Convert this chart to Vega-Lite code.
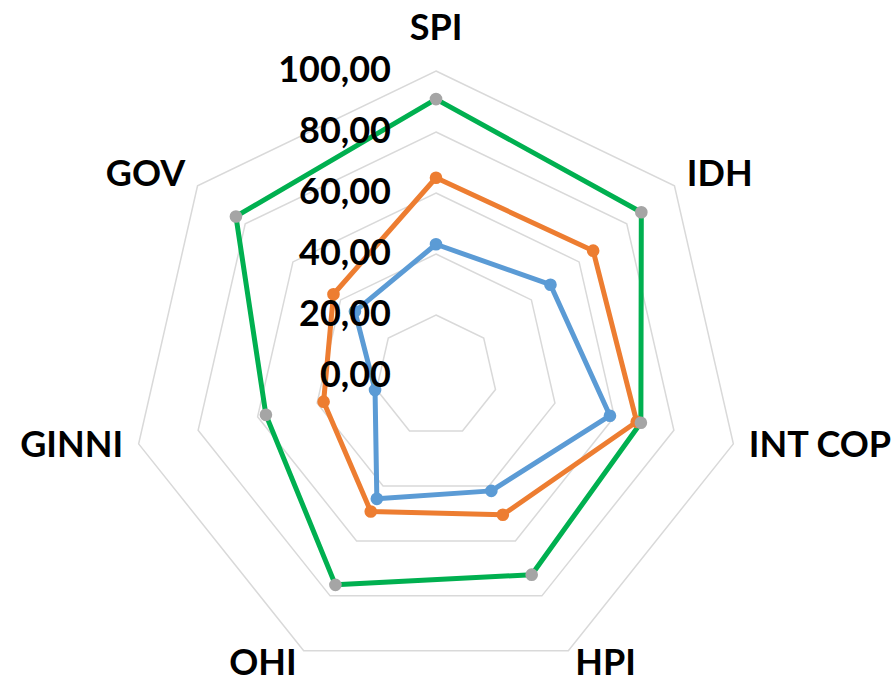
{
  "$schema": "https://vega.github.io/schema/vega-lite/v6.json",
  "width": 895,
  "height": 679,
  "autosize": {"type": "none"},
  "padding": 0,
  "background": "white",
  "config": {
    "view": {"stroke": null},
    "locale": {"number": {"decimal": ",", "thousands": ".", "grouping": [3], "currency": ["", " €"]}}
  },
  "datasets": {
    "scores": [
      {"series": "Serie 1", "cat": "SPI", "value": 43.2},
      {"series": "Serie 1", "cat": "IDH", "value": 48.0},
      {"series": "Serie 1", "cat": "INT COP", "value": 58.5},
      {"series": "Serie 1", "cat": "HPI", "value": 41.8},
      {"series": "Serie 1", "cat": "OHI", "value": 44.7},
      {"series": "Serie 1", "cat": "GINNI", "value": 20.5},
      {"series": "Serie 1", "cat": "GOV", "value": 34.0},
      {"series": "Serie 2", "cat": "SPI", "value": 65.0},
      {"series": "Serie 2", "cat": "IDH", "value": 65.9},
      {"series": "Serie 2", "cat": "INT COP", "value": 67.5},
      {"series": "Serie 2", "cat": "HPI", "value": 50.5},
      {"series": "Serie 2", "cat": "OHI", "value": 49.3},
      {"series": "Serie 2", "cat": "GINNI", "value": 37.8},
      {"series": "Serie 2", "cat": "GOV", "value": 43.0},
      {"series": "Serie 3", "cat": "SPI", "value": 90.8},
      {"series": "Serie 3", "cat": "IDH", "value": 86.1},
      {"series": "Serie 3", "cat": "INT COP", "value": 68.9},
      {"series": "Serie 3", "cat": "HPI", "value": 72.3},
      {"series": "Serie 3", "cat": "OHI", "value": 76.0},
      {"series": "Serie 3", "cat": "GINNI", "value": 57.2},
      {"series": "Serie 3", "cat": "GOV", "value": 83.9}
    ],
    "rings": [
      {"level": 20, "cat": ["SPI", "IDH", "INT COP", "HPI", "OHI", "GINNI", "GOV"]},
      {"level": 40, "cat": ["SPI", "IDH", "INT COP", "HPI", "OHI", "GINNI", "GOV"]},
      {"level": 60, "cat": ["SPI", "IDH", "INT COP", "HPI", "OHI", "GINNI", "GOV"]},
      {"level": 80, "cat": ["SPI", "IDH", "INT COP", "HPI", "OHI", "GINNI", "GOV"]},
      {"level": 100, "cat": ["SPI", "IDH", "INT COP", "HPI", "OHI", "GINNI", "GOV"]}
    ],
    "ticks": [
      {"level": 0}, {"level": 20}, {"level": 40}, {"level": 60}, {"level": 80}, {"level": 100}
    ],
    "labels": [
      {"cat": "SPI"}, {"cat": "IDH"}, {"cat": "INT COP"}, {"cat": "HPI"}, {"cat": "OHI"}, {"cat": "GINNI"}, {"cat": "GOV"}
    ]
  },
  "layer": [
    {
      "data": {"name": "rings"},
      "transform": [
        {"flatten": ["cat"]},
        {"calculate": "indexof(['SPI','IDH','INT COP','HPI','OHI','GINNI','GOV'], datum.cat)", "as": "idx"},
        {"calculate": "datum.idx * 2 * PI / 7", "as": "ang"},
        {"calculate": "datum.level * sin(datum.ang)", "as": "px"},
        {"calculate": "datum.level * cos(datum.ang)", "as": "py"}
      ],
      "mark": {"type": "line", "interpolate": "linear-closed", "stroke": "#d9d9d9", "strokeWidth": 1.5},
      "encoding": {
        "x": {"field": "px", "type": "quantitative", "scale": {"domain": [-142.95, 150.49], "nice": false, "zero": false}, "axis": null},
        "y": {"field": "py", "type": "quantitative", "scale": {"domain": [-99.34, 123.28], "nice": false, "zero": false}, "axis": null},
        "detail": {"field": "level", "type": "nominal"},
        "order": {"field": "idx", "type": "quantitative"}
      }
    },
    {
      "data": {"name": "scores"},
      "transform": [
        {"calculate": "indexof(['SPI','IDH','INT COP','HPI','OHI','GINNI','GOV'], datum.cat)", "as": "idx"},
        {"calculate": "datum.idx * 2 * PI / 7", "as": "ang"},
        {"calculate": "datum.value * sin(datum.ang)", "as": "px"},
        {"calculate": "datum.value * cos(datum.ang)", "as": "py"}
      ],
      "mark": {"type": "line", "interpolate": "linear-closed", "strokeWidth": 5, "strokeJoin": "round"},
      "encoding": {
        "x": {"field": "px", "type": "quantitative"},
        "y": {"field": "py", "type": "quantitative"},
        "stroke": {"field": "series", "type": "nominal", "scale": {"domain": ["Serie 1", "Serie 2", "Serie 3"], "range": ["#5B9BD5", "#ED7D31", "#00B050"]}, "legend": null},
        "order": {"field": "idx", "type": "quantitative"}
      }
    },
    {
      "data": {"name": "scores"},
      "transform": [
        {"calculate": "indexof(['SPI','IDH','INT COP','HPI','OHI','GINNI','GOV'], datum.cat)", "as": "idx"},
        {"calculate": "datum.idx * 2 * PI / 7", "as": "ang"},
        {"calculate": "datum.value * sin(datum.ang)", "as": "px"},
        {"calculate": "datum.value * cos(datum.ang)", "as": "py"}
      ],
      "mark": {"type": "point", "filled": true, "size": 160, "opacity": 1, "shape": "circle"},
      "encoding": {
        "x": {"field": "px", "type": "quantitative"},
        "y": {"field": "py", "type": "quantitative"},
        "fill": {"field": "series", "type": "nominal", "scale": {"domain": ["Serie 1", "Serie 2", "Serie 3"], "range": ["#5B9BD5", "#ED7D31", "#A5A5A5"]}, "legend": null}
      }
    },
    {
      "data": {"name": "ticks"},
      "transform": [
        {"calculate": "0", "as": "px"}
      ],
      "mark": {"type": "text", "align": "right", "baseline": "middle", "dx": -45, "font": "Lato", "fontSize": 36, "fontWeight": "bold", "color": "black"},
      "encoding": {
        "x": {"field": "px", "type": "quantitative"},
        "y": {"field": "level", "type": "quantitative"},
        "text": {"field": "level", "type": "quantitative", "format": ".2f"}
      }
    },
    {
      "data": {"name": "labels"},
      "transform": [
        {"calculate": "indexof(['SPI','IDH','INT COP','HPI','OHI','GINNI','GOV'], datum.cat)", "as": "idx"},
        {"calculate": "datum.idx * 2 * PI / 7", "as": "ang"},
        {"calculate": "105.2 * sin(datum.ang)", "as": "px"},
        {"calculate": "105.2 * cos(datum.ang)", "as": "py"},
        {"filter": "sin(datum.ang) > 0.1"}
      ],
      "mark": {"type": "text", "align": "left", "baseline": "middle", "dy": -1, "font": "Lato", "fontSize": 36, "fontWeight": "bold", "color": "black"},
      "encoding": {
        "x": {"field": "px", "type": "quantitative"},
        "y": {"field": "py", "type": "quantitative"},
        "text": {"field": "cat", "type": "nominal"}
      }
    },
    {
      "data": {"name": "labels"},
      "transform": [
        {"calculate": "indexof(['SPI','IDH','INT COP','HPI','OHI','GINNI','GOV'], datum.cat)", "as": "idx"},
        {"calculate": "datum.idx * 2 * PI / 7", "as": "ang"},
        {"calculate": "105.2 * sin(datum.ang)", "as": "px"},
        {"calculate": "105.2 * cos(datum.ang)", "as": "py"},
        {"filter": "sin(datum.ang) < -0.1"}
      ],
      "mark": {"type": "text", "align": "right", "baseline": "middle", "dy": -1, "font": "Lato", "fontSize": 36, "fontWeight": "bold", "color": "black"},
      "encoding": {
        "x": {"field": "px", "type": "quantitative"},
        "y": {"field": "py", "type": "quantitative"},
        "text": {"field": "cat", "type": "nominal"}
      }
    },
    {
      "data": {"name": "labels"},
      "transform": [
        {"calculate": "indexof(['SPI','IDH','INT COP','HPI','OHI','GINNI','GOV'], datum.cat)", "as": "idx"},
        {"calculate": "datum.idx * 2 * PI / 7", "as": "ang"},
        {"calculate": "105.2 * sin(datum.ang)", "as": "px"},
        {"calculate": "105.2 * cos(datum.ang)", "as": "py"},
        {"filter": "abs(sin(datum.ang)) <= 0.1"}
      ],
      "mark": {"type": "text", "align": "center", "baseline": "bottom", "dy": -7, "font": "Lato", "fontSize": 36, "fontWeight": "bold", "color": "black"},
      "encoding": {
        "x": {"field": "px", "type": "quantitative"},
        "y": {"field": "py", "type": "quantitative"},
        "text": {"field": "cat", "type": "nominal"}
      }
    }
  ]
}
